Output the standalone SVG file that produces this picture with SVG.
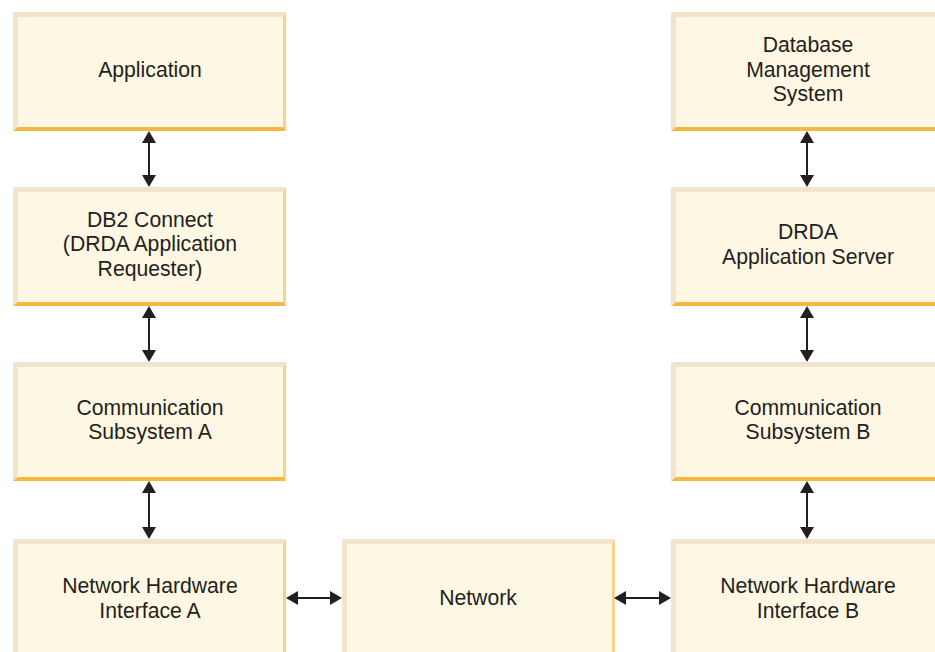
<svg xmlns="http://www.w3.org/2000/svg" xmlns:xlink="http://www.w3.org/1999/xlink" width="935" height="652" viewBox="0 0 935 652">
<style>
text{font-family:"Liberation Sans",Arial,Helvetica,sans-serif;font-size:21.2px;fill:#231f20;text-anchor:middle}
.c line{stroke:#231f20;stroke-width:2;marker-start:url(#ah);marker-end:url(#ah)}
</style>
<defs>
<marker id="ah" viewBox="0 0 12 14" refX="10" refY="7" markerWidth="12" markerHeight="14" markerUnits="userSpaceOnUse" orient="auto-start-reverse">
<path d="M0,0 L12,7 L0,14 z" fill="#231f20"/>
</marker>
<g id="box">
<rect x="0" y="0" width="273" height="119" fill="#fdf7e3"/>
<polygon points="0,0 273,0 270,5 5,5" fill="#f2e4cc"/>
<polygon points="0,0 5,5 5,115 0,119" fill="#f2e4cc"/>
<polygon points="273,0 273,119 270,115 270,5" fill="#f6d28c"/>
<polygon points="0,119 273,119 270,115 5,115" fill="#f5b73f"/>
</g>
</defs>
<rect width="935" height="652" fill="#ffffff"/>
<g id="application"><use xlink:href="#box" x="13" y="12"/><text x="150" y="77">Application</text></g>
<g id="db2connect"><use xlink:href="#box" x="13" y="187"/><text x="150" y="226.5">DB2 Connect</text><text x="150" y="251">(DRDA Application</text><text x="150" y="275.5">Requester)</text></g>
<g id="commA"><use xlink:href="#box" x="13" y="362"/><text x="150" y="414.5">Communication</text><text x="150" y="439">Subsystem A</text></g>
<g id="nhiA"><use xlink:href="#box" x="13" y="539"/><text x="150" y="593">Network Hardware</text><text x="150" y="617.5">Interface A</text></g>
<g id="network"><use xlink:href="#box" x="342" y="539"/><text x="478" y="605">Network</text></g>
<g id="dbms"><use xlink:href="#box" x="671" y="12"/><text x="808" y="52">Database</text><text x="808" y="76.5">Management</text><text x="808" y="101">System</text></g>
<g id="drdaServer"><use xlink:href="#box" x="671" y="187"/><text x="808" y="239">DRDA</text><text x="808" y="263.5">Application Server</text></g>
<g id="commB"><use xlink:href="#box" x="671" y="362"/><text x="808" y="414.5">Communication</text><text x="808" y="439">Subsystem B</text></g>
<g id="nhiB"><use xlink:href="#box" x="671" y="539"/><text x="808" y="593">Network Hardware</text><text x="808" y="617.5">Interface B</text></g>
<g class="c" id="connectors">
<line x1="149" y1="133" x2="149" y2="185"/>
<line x1="149" y1="308" x2="149" y2="360"/>
<line x1="149" y1="483" x2="149" y2="537"/>
<line x1="807" y1="133" x2="807" y2="185"/>
<line x1="807" y1="308" x2="807" y2="360"/>
<line x1="807" y1="483" x2="807" y2="537"/>
<line x1="288" y1="598" x2="340" y2="598"/>
<line x1="616" y1="598" x2="669" y2="598"/>
</g>
</svg>
